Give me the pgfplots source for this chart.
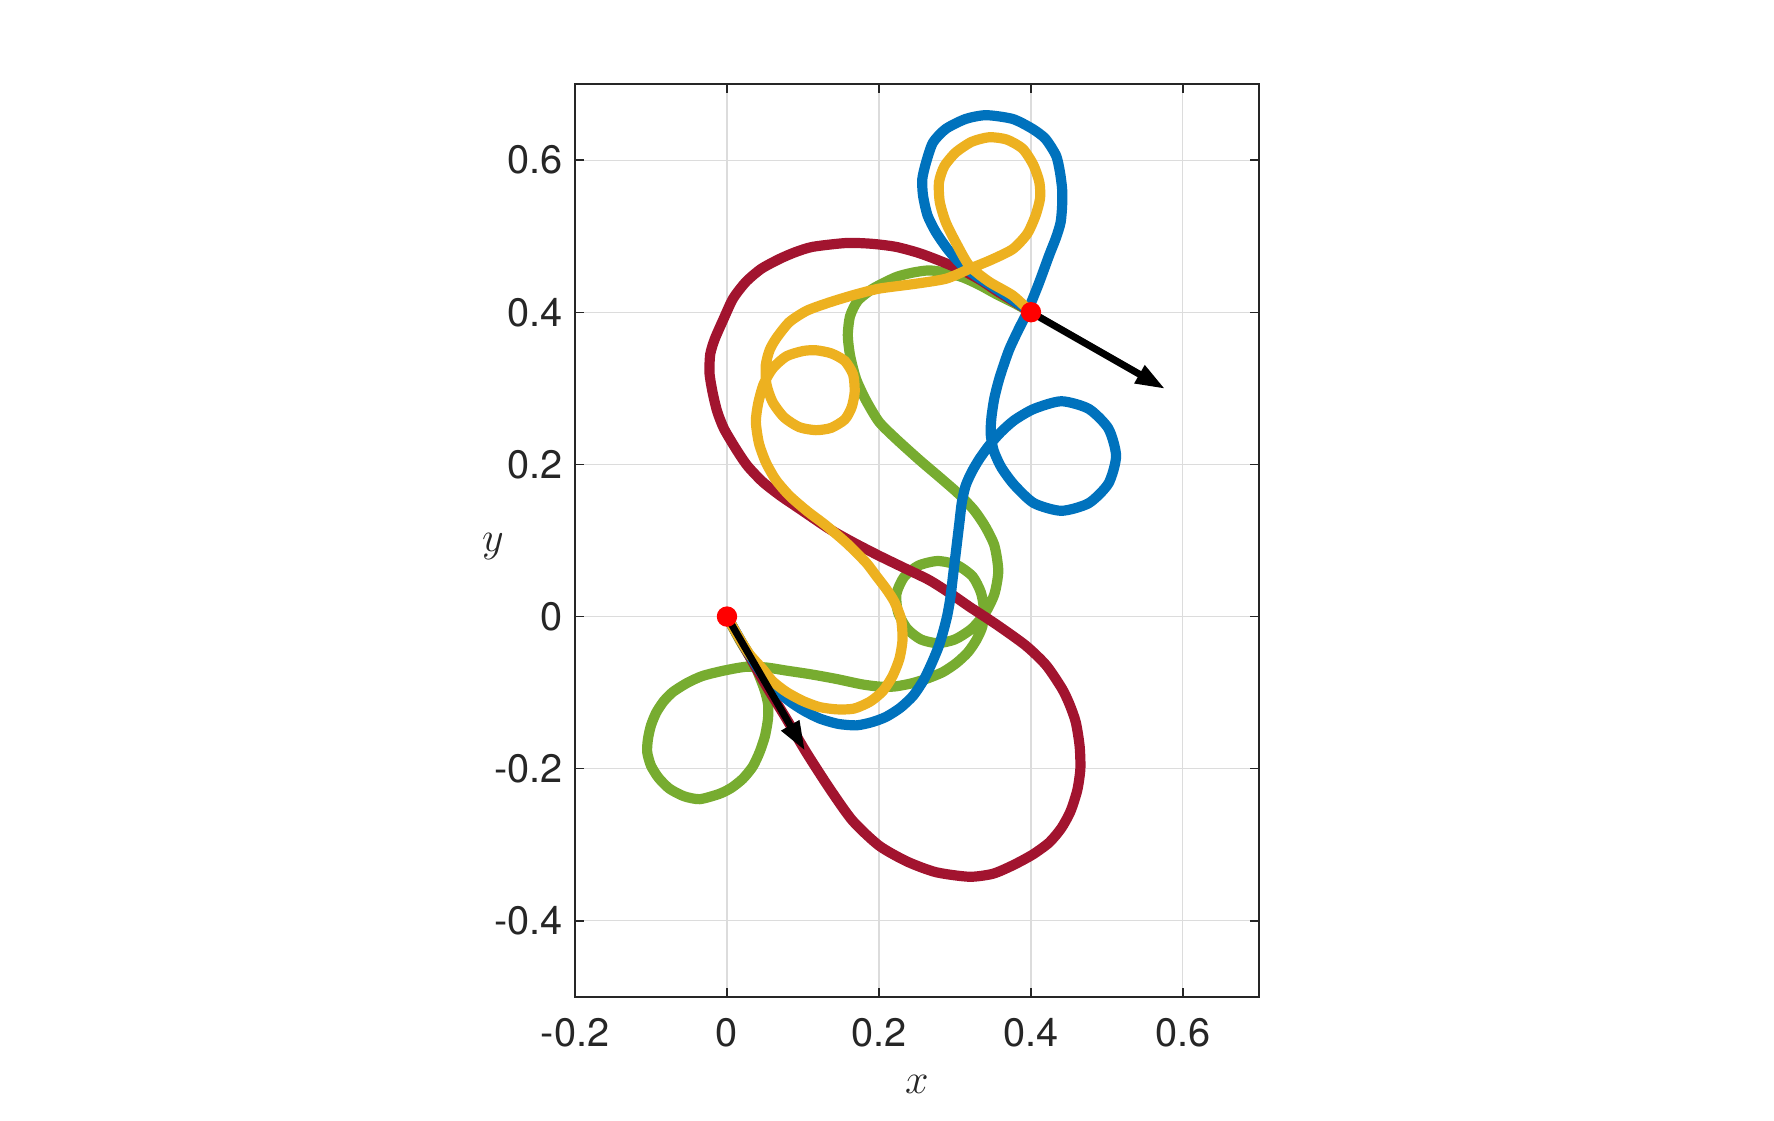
\documentclass[border=0pt]{standalone}
\usepackage{fontspec}
\setmainfont{TeX Gyre Heros}
\usepackage{pgfplots}
\pgfplotsset{compat=1.18}
\usetikzlibrary{arrows.meta}
\definecolor{mBlue}{HTML}{0072BD}
\definecolor{mYellow}{HTML}{EDB120}
\definecolor{mGreen}{HTML}{77AC30}
\definecolor{mRed}{HTML}{A2142F}
\definecolor{axisgray}{HTML}{262626}
\definecolor{gridgray}{HTML}{DCDCDC}

\begin{document}
\begin{tikzpicture}
\begin{axis}[
  at={(0,0)}, anchor=south west,
  width=6.84cm, height=9.13cm, scale only axis,
  xmin=-0.2, xmax=0.7, ymin=-0.5, ymax=0.7,
  xtick={-0.2,0,0.2,0.4,0.6},
  ytick={-0.4,-0.2,0,0.2,0.4,0.6},
  xticklabels={-0.2,0,0.2,0.4,0.6},
  yticklabels={-0.4,-0.2,0,0.2,0.4,0.6},
  tick align=inside, major tick length=0.09cm,
  grid=major,
  grid style={line width=0.3pt, color=gridgray},
  axis line style={line width=0.4pt, color=axisgray},
  tick style={line width=0.4pt, color=axisgray},
  ticklabel style={font=\fontsize{11.3}{13}\selectfont, color=axisgray},
  xticklabel style={yshift=-0.09cm},
  xlabel={$x$}, ylabel={$y$},
  label style={font=\fontsize{12.5}{14}\selectfont, color=axisgray},
  xlabel style={at={([yshift=-0.87cm]axis description cs:0.5,0)}, anchor=center},
  ylabel style={at={([xshift=-0.82cm,yshift=-0.06cm]axis description cs:0,0.5)}, rotate=-90, anchor=center},
  curve/.style={line width=2.9pt, smooth, tension=0.42},
]
% green
\addplot[mGreen, curve] coordinates {
(0,0) (0.018,-0.033) (0.036,-0.063) (0.049,-0.095) (0.054,-0.115) (0.054,-0.134)
(0.050,-0.157) (0.043,-0.178) (0.034,-0.197) (0.021,-0.213) (0.006,-0.225)
(-0.010,-0.233) (-0.036,-0.240) (-0.057,-0.236) (-0.076,-0.226) (-0.090,-0.212)
(-0.100,-0.196) (-0.105,-0.178) (-0.104,-0.161) (-0.100,-0.143) (-0.093,-0.126)
(-0.083,-0.111) (-0.071,-0.099) (-0.052,-0.087) (-0.032,-0.078) (-0.004,-0.071)
(0.025,-0.066) (0.052,-0.067) (0.078,-0.071) (0.111,-0.076) (0.144,-0.082)
(0.177,-0.089) (0.200,-0.092) (0.220,-0.092) (0.242,-0.088) (0.262,-0.082)
(0.284,-0.073) (0.302,-0.061) (0.317,-0.047) (0.328,-0.031) (0.336,-0.013)
(0.338,0.010) (0.334,0.032) (0.323,0.053) (0.302,0.068) (0.277,0.073)
(0.252,0.067) (0.233,0.052) (0.223,0.030) (0.225,0.006) (0.237,-0.016)
(0.255,-0.030) (0.277,-0.035) (0.300,-0.030) (0.322,-0.016) (0.340,0.005)
(0.352,0.030) (0.357,0.060) (0.352,0.093) (0.340,0.118) (0.325,0.140)
(0.304,0.162) (0.280,0.183) (0.253,0.206) (0.222,0.234) (0.200,0.256)
(0.183,0.284) (0.170,0.312) (0.162,0.343) (0.159,0.370) (0.162,0.395)
(0.172,0.415) (0.192,0.431) (0.222,0.446) (0.244,0.452) (0.266,0.455)
(0.288,0.452) (0.310,0.446) (0.332,0.436) (0.354,0.424) (0.378,0.412) (0.4,0.4)
};
% red
\addplot[mRed, curve] coordinates {
(0,0) (0.025,-0.044) (0.051,-0.090) (0.078,-0.134) (0.104,-0.178) (0.135,-0.226)
(0.165,-0.268) (0.200,-0.301) (0.237,-0.322) (0.275,-0.336) (0.319,-0.342)
(0.350,-0.338) (0.376,-0.327) (0.402,-0.313) (0.424,-0.297) (0.440,-0.278)
(0.452,-0.256) (0.461,-0.228) (0.465,-0.200) (0.464,-0.170) (0.459,-0.139)
(0.451,-0.116) (0.441,-0.095) (0.420,-0.064) (0.393,-0.038) (0.354,-0.010)
(0.319,0.013) (0.293,0.031) (0.266,0.048) (0.233,0.064) (0.200,0.080)
(0.167,0.097) (0.135,0.115) (0.095,0.142) (0.070,0.159) (0.047,0.177)
(0.027,0.198) (0.012,0.220) (-0.004,0.247) (-0.013,0.270) (-0.019,0.295)
(-0.023,0.320) (-0.022,0.345) (-0.016,0.365) (-0.005,0.390) (0.008,0.418)
(0.025,0.440) (0.045,0.457) (0.069,0.470) (0.090,0.479) (0.113,0.486)
(0.157,0.491) (0.190,0.490) (0.222,0.486) (0.252,0.478) (0.279,0.468)
(0.310,0.455) (0.334,0.442) (0.355,0.428) (0.378,0.414) (0.4,0.4)
};
% blue
\addplot[mBlue, curve] coordinates {
(0,0) (0.025,-0.043) (0.051,-0.082) (0.078,-0.108) (0.100,-0.123) (0.122,-0.134)
(0.146,-0.141) (0.170,-0.143) (0.190,-0.139) (0.209,-0.132) (0.228,-0.120)
(0.245,-0.104) (0.259,-0.083) (0.270,-0.060) (0.279,-0.038) (0.285,-0.018)
(0.290,0.002) (0.294,0.025) (0.297,0.050) (0.300,0.075) (0.303,0.100)
(0.306,0.125) (0.309,0.150) (0.314,0.172) (0.322,0.190) (0.332,0.207)
(0.345,0.225) (0.360,0.242) (0.378,0.258) (0.404,0.273) (0.440,0.283)
(0.476,0.273) (0.502,0.247) (0.512,0.211) (0.502,0.175) (0.476,0.149)
(0.440,0.139) (0.404,0.149) (0.378,0.173) (0.361,0.196) (0.351,0.218)
(0.347,0.240) (0.348,0.262) (0.352,0.288) (0.359,0.315) (0.371,0.350)
(0.384,0.378) (0.395,0.400) (0.410,0.437) (0.424,0.475) (0.433,0.498)
(0.439,0.518) (0.441,0.540) (0.441,0.562) (0.438,0.585) (0.433,0.606)
(0.419,0.628) (0.402,0.641) (0.376,0.654) (0.341,0.659) (0.314,0.654)
(0.288,0.641) (0.271,0.623) (0.262,0.597) (0.257,0.575) (0.258,0.553)
(0.264,0.527) (0.275,0.505) (0.291,0.482) (0.310,0.461) (0.332,0.445)
(0.354,0.431) (0.378,0.415) (0.4,0.4)
};
% yellow
\addplot[mYellow, curve] coordinates {
(0,0) (0.016,-0.028) (0.030,-0.050) (0.047,-0.069) (0.060,-0.085) (0.078,-0.099)
(0.100,-0.111) (0.122,-0.119) (0.145,-0.122) (0.167,-0.121) (0.188,-0.112)
(0.205,-0.098) (0.218,-0.078) (0.227,-0.055) (0.231,-0.030) (0.229,-0.003)
(0.220,0.020) (0.209,0.037) (0.196,0.054) (0.183,0.071) (0.158,0.096)
(0.130,0.120) (0.105,0.139) (0.082,0.159) (0.064,0.180) (0.051,0.203)
(0.042,0.228) (0.038,0.256) (0.041,0.280) (0.048,0.305) (0.060,0.326)
(0.078,0.342) (0.100,0.349) (0.117,0.350) (0.137,0.346) (0.155,0.336)
(0.166,0.318) (0.168,0.295) (0.164,0.275) (0.155,0.259) (0.137,0.248)
(0.117,0.245) (0.095,0.249) (0.075,0.262) (0.060,0.282) (0.052,0.305)
(0.051,0.330) (0.056,0.350) (0.065,0.366) (0.082,0.387) (0.105,0.402)
(0.135,0.413) (0.168,0.423) (0.200,0.431) (0.245,0.437) (0.288,0.444)
(0.319,0.457) (0.348,0.469) (0.376,0.483) (0.395,0.503) (0.406,0.527)
(0.412,0.550) (0.411,0.571) (0.403,0.594) (0.389,0.615) (0.368,0.627)
(0.345,0.630) (0.322,0.624) (0.301,0.610) (0.286,0.592) (0.279,0.571)
(0.280,0.545) (0.288,0.518) (0.302,0.490) (0.319,0.461) (0.345,0.440)
(0.376,0.422) (0.4,0.4)
};
% start and end points
\addplot[only marks, mark=*, mark size=2.7pt, color=red, fill=red] coordinates {(0,0) (0.4,0.4)};
% tangent arrows
\addplot[black, line width=2pt, -{Triangle[length=0.3cm,width=0.19cm]}] coordinates {(0,0) (0.103,-0.177)};
\addplot[black, line width=2pt, -{Triangle[length=0.3cm,width=0.19cm]}] coordinates {(0.4,0.4) (0.577,0.299)};
\end{axis}
\path[use as bounding box] (-5.75,-1.24) rectangle (11.99,9.97);
\end{tikzpicture}
\end{document}
